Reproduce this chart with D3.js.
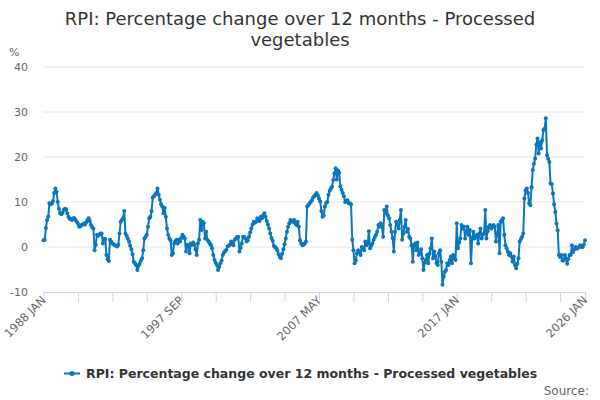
<!DOCTYPE html>
<html><head><meta charset="utf-8">
<script src="https://cdn.jsdelivr.net/npm/d3@7"></script>
<style>
html,body{margin:0;padding:0;background:#fff;}
svg text{font-family:"DejaVu Sans",sans-serif;}
</style></head>
<body><svg id="c" width="600" height="400"></svg>
<script>
const title = ["RPI: Percentage change over 12 months - Processed", "vegetables"];
const seriesName = "RPI: Percentage change over 12 months - Processed vegetables";
const startYear = 1988;
const monthNames = ["JAN","FEB","MAR","APR","MAY","JUN","JUL","AUG","SEP","OCT","NOV","DEC"];
const yTicks = [-10, 0, 10, 20, 30, 40];
const xLabelCats = ["1988 JAN", "1997 SEP", "2007 MAY", "2017 JAN", "2026 JAN"];
const values = [
  1.5, 1.6, 4.2, 6.0, 6.8, 9.7, 9.5, 9.6, 10.2, 12.0, 13.0, 12.3,
  10.0, 8.5, 7.5, 7.3, 7.6, 8.2, 8.5, 8.4, 7.5, 6.7, 6.3, 6.2,
  6.0, 6.4, 6.4, 6.0, 5.6, 5.2, 4.5, 4.6, 4.9, 5.0, 5.2, 5.0,
  5.5, 6.0, 6.4, 5.8, 4.9, 4.4, 4.1, -0.7, 0.5, 2.7, 2.5, 2.8,
  3.0, 3.0, 0.8, 1.8, 1.8, -1.8, -2.7, -3.1, 1.6, 1.2, 0.8, 0.6,
  0.4, 0.3, 0.1, 0.5, 3.0, 5.6, 6.0, 6.4, 8.0, 3.0, 2.5, 1.9,
  1.2, 0.3, -0.5, -1.6, -3.3, -3.6, -4.0, -5.1, -4.2, -3.7, -3.0, -2.5,
  -0.7, 1.9, 2.3, 2.7, 4.5, 6.4, 6.7, 8.0, 11.0, 11.3, 11.6, 12.0,
  13.0, 11.6, 10.5, 9.5, 9.0, 7.5, 8.7, 6.7, 4.1, 2.7, 1.9, 1.5,
  -1.8, -1.4, 0.8, 1.2, 1.6, 0.8, 1.6, 1.2, 2.0, 2.7, 2.3, 1.9,
  -1.0, 0.5, 0.1, -1.4, 0.8, 0.5, 1.0, 0.5, -0.5, -1.8, 0.8, 1.6,
  6.0, 3.8, 5.6, 5.3, 1.9, 3.4, 1.6, 1.2, 0.8, 0.4, -0.3, -1.8,
  -2.9, -3.5, -4.0, -5.1, -4.4, -3.6, -3.0, -1.8, -1.2, -0.9, -0.6, 0.1,
  0.3, 0.5, 1.2, 0.6, 0.4, 1.6, 1.9, 2.2, 2.3, -1.0, -0.2, 0.8,
  2.3, 2.3, 1.9, 1.2, 1.5, 2.3, 3.2, 4.1, 5.0, 5.6, 5.4, 5.6,
  6.4, 6.0, 5.8, 6.7, 6.4, 7.0, 7.5, 6.7, 5.8, 5.0, 4.1, 3.0,
  2.0, 1.4, 0.2, 0.0, -0.3, -0.8, -1.6, -2.2, -2.5, -1.5, -0.5, 0.6,
  1.9, 3.4, 4.5, 5.3, 6.0, 5.7, 5.6, 6.0, 5.2, 4.9, 5.6, 4.5,
  1.5, 0.8, 0.4, 0.5, 0.8, 1.2, 9.0, 9.3, 9.7, 10.0, 10.4, 11.0,
  11.3, 11.6, 12.0, 11.5, 10.8, 10.1, 8.0, 6.7, 7.0, 9.0, 9.8, 10.0,
  11.6, 12.5, 13.0, 13.4, 14.9, 16.4, 17.5, 15.0, 17.0, 16.5, 13.5, 12.7,
  12.0, 11.3, 10.0, 10.3, 10.4, 9.7, 9.7, 9.5, 1.6, -0.7, -3.6, -3.0,
  -1.4, -0.7, -1.0, -1.8, 0.0, -0.3, -0.7, 1.2, 0.4, 0.8, 3.5, -0.3,
  0.3, 0.8, 1.6, 2.2, 2.7, 3.4, 4.9, 4.5, 5.3, 4.6, 2.3, 8.2,
  7.5, 9.0, 7.0, 6.4, 4.9, 3.4, 2.0, -1.0, 3.4, 5.6, 5.0, 4.1,
  6.0, 8.2, 1.6, 3.0, 4.5, 6.0, 3.4, 4.0, 2.3, 1.9, 0.4, -3.3,
  0.5, 0.8, -0.7, 1.0, -1.8, -1.4, -0.5, -2.5, -5.1, -3.5, -2.9, -1.8,
  -3.6, -1.5, -0.3, 1.9, -2.5, -1.0, -2.0, -3.6, -4.0, -1.4, -0.7, -3.3,
  -8.4, -6.6, -5.5, -5.1, -3.6, -4.0, -2.9, -2.1, -3.6, -1.8, -2.5, -2.9,
  5.3, -0.3, 1.0, 1.9, 4.9, 4.1, 4.5, 1.9, 3.5, 4.5, 2.7, 3.8,
  -3.6, 2.0, 3.4, 1.9, 2.4, 2.7, 0.8, 3.0, 4.1, 1.9, 2.7, 3.0,
  8.2, 1.9, 3.5, 4.5, 4.9, 4.1, 4.5, 4.9, 4.5, 1.2, 3.0, 4.9,
  -1.4, 5.6, 6.0, 6.4, 2.7, 0.4, -0.3, -1.0, -1.8, -1.4, -2.1, -3.3,
  -2.1, -4.0, -4.7, -3.7, -2.5, 1.2, 1.8, 2.3, 3.0, 10.8, 12.6, 13.0,
  12.0, 9.7, 9.3, 13.3, 17.1, 18.5, 19.6, 22.7, 24.1, 20.8, 23.3, 21.9,
  23.7, 26.0, 26.3, 28.6, 20.4, 19.6, 18.9, 14.1, 14.0, 11.9, 9.5, 7.8,
  5.2, 3.7, -1.8, -2.2, -1.8, -3.0, -3.0, -1.8, -2.5, -3.7, -2.6, -1.8,
  -1.8, 0.4, -1.1, -0.5, 0.0, -0.4, -0.2, 0.0, 0.4, 0.0, 0.0, 0.5,
  1.5
];
const categories = values.map((v, i) => (startYear + Math.floor(i / 12)) + " " + monthNames[i % 12]);
const tickStep = 29;

const color = "#0a77bd";
const svg = d3.select("#c");
const plotLeft = 43.5, plotRight = 585, plotTop = 67, plotBottom = 292;

const x = d3.scalePoint().domain(categories).range([plotLeft, plotRight]);
const y = d3.scaleLinear().domain([-10, 40]).range([plotBottom, plotTop]);

// title
svg.append("g").selectAll("text").data(title).join("text")
  .attr("x", 300).attr("y", (d, i) => 25 + i * 21)
  .attr("text-anchor", "middle").attr("font-size", 18).attr("fill", "#333")
  .text(d => d);

// gridlines
svg.append("g").selectAll("line").data(yTicks.filter(t => t > -10)).join("line")
  .attr("x1", plotLeft).attr("x2", plotRight)
  .attr("y1", d => y(d)).attr("y2", d => y(d))
  .attr("stroke", "#e6e6e6").attr("stroke-width", 1);

// y labels
svg.append("g").selectAll("text").data(yTicks).join("text")
  .attr("x", 28).attr("y", d => y(d) + 4)
  .attr("text-anchor", "end").attr("font-size", 11).attr("fill", "#666")
  .text(d => d);
svg.append("text").attr("x", 9).attr("y", 56).attr("font-size", 11).attr("fill", "#666").text("%");

// x axis
const tickCats = categories.filter((c, i) => i % tickStep === 0);
tickCats.push(categories[categories.length - 1]);
const xAxis = d3.axisBottom(x).tickValues(tickCats).tickSize(10).tickFormat("");
const gx = svg.append("g").attr("transform", `translate(0,${plotBottom})`).call(xAxis);
gx.select(".domain").attr("stroke", "#ccd6eb").attr("d", `M${plotLeft},0.5H${plotRight}`);
gx.selectAll(".tick line").attr("stroke", "#ccd6eb");

svg.append("g").selectAll("text").data(xLabelCats).join("text")
  .attr("transform", d => `translate(${x(d) + 3},${plotBottom + 9}) rotate(-45)`)
  .attr("text-anchor", "end").attr("font-size", 11.5).attr("fill", "#666")
  .text(d => d);

// series
const line = d3.line().x((d, i) => x(categories[i])).y(d => y(d));
svg.append("path").datum(values).attr("d", line)
  .attr("fill", "none").attr("stroke", color).attr("stroke-width", 2)
  .attr("stroke-linejoin", "round");
svg.append("g").selectAll("circle").data(values).join("circle")
  .attr("cx", (d, i) => x(categories[i])).attr("cy", d => y(d))
  .attr("r", 2).attr("fill", color);

// legend
const lg = svg.append("g");
lg.append("line").attr("x1", 64).attr("x2", 80).attr("y1", 373.5).attr("y2", 373.5)
  .attr("stroke", color).attr("stroke-width", 2);
lg.append("circle").attr("cx", 72).attr("cy", 373.5).attr("r", 2.5).attr("fill", color);
lg.append("text").attr("x", 86).attr("y", 378).attr("font-size", 12.5).attr("font-weight", "bold")
  .attr("fill", "#333").text(seriesName);

svg.append("text").attr("x", 589).attr("y", 395).attr("text-anchor", "end")
  .attr("font-size", 12).attr("fill", "#666").text("Source:");
</script>
</body></html>
